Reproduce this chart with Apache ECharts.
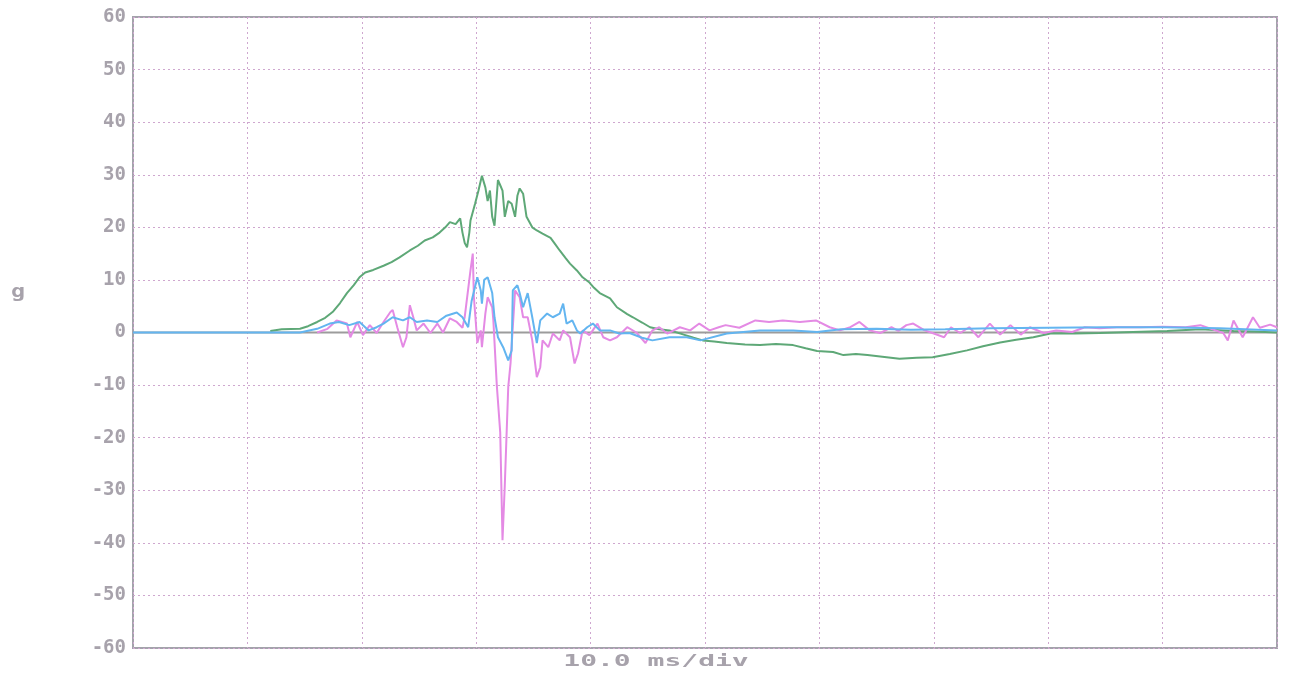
<!DOCTYPE html>
<html>
<head>
<meta charset="utf-8">
<script src="https://cdn.jsdelivr.net/npm/echarts@6/dist/echarts.min.js"></script>
<style>html,body{margin:0;padding:0;background:#fff}#c{width:1289px;height:674px}</style>
</head>
<body>
<div id="c"></div>
<script>
// time (ms), acceleration (g)
const yTicks = [-60,-50,-40,-30,-20,-10,0,10,20,30,40,50,60];
const xLabel = '10.0 ms/div';
const yName = 'g';
const zeroLine = [[0,0],[100,0]];

const green = [
[12.0,0.3],[13.0,0.6],[14.6,0.7],[15.3,1.2],[16.1,2],[16.8,2.8],[17.5,4],[18.1,5.6],[18.7,7.5],[19.3,9],[19.8,10.5],[20.3,11.4],[21.0,11.9],[21.9,12.7],[22.6,13.4],[23.3,14.3],[24.2,15.6],[24.9,16.5],[25.5,17.5],[26.2,18.1],[26.8,19],[27.3,20],[27.7,21],[28.2,20.6],[28.6,21.7],[28.8,19],[29.0,17],[29.2,16.2],[29.4,19],[29.5,21.3],[29.9,24.5],[30.2,27],[30.5,29.8],[30.8,27.6],[31.0,25],[31.2,27],[31.4,22],[31.6,20.3],[31.8,26],[31.9,29],[32.1,28],[32.3,27],[32.5,22],[32.8,25],[33.1,24.5],[33.4,22],[33.6,26],[33.8,27.4],[34.1,26.4],[34.4,22],[34.9,20],[35.3,19.4],[35.8,18.8],[36.5,18],[36.9,16.8],[37.3,15.6],[37.8,14.2],[38.2,13.1],[38.8,11.8],[39.3,10.5],[39.9,9.5],[40.3,8.5],[40.8,7.5],[41.7,6.5],[42.3,4.8],[43.2,3.5],[43.7,2.9],[44.5,1.9],[45.2,1],[46.0,0.6],[46.9,0.4],[48.0,-0.3],[49.0,-1],[49.8,-1.5],[50.8,-1.7],[51.9,-2],[53.5,-2.3],[54.8,-2.4],[56.2,-2.2],[57.7,-2.4],[58.8,-3],[59.8,-3.5],[61.2,-3.7],[62.1,-4.3],[63.2,-4.1],[64.2,-4.3],[65.5,-4.6],[67.0,-5],[68.5,-4.8],[69.9,-4.7],[71.4,-4.1],[72.9,-3.4],[74.3,-2.6],[75.8,-1.9],[77.2,-1.4],[78.7,-0.9],[80.2,-0.2],[82.3,-0.2],[84.5,-0.1],[87.4,0.1],[90.4,0.3],[93.3,0.6],[96.2,0.3],[98,0.2],[100,0]
];

const cyan = [
[0,0],[14.6,0],[16.1,0.7],[17.2,1.7],[18.0,2],[18.9,1.4],[19.8,2],[20.6,0.4],[21.3,1],[21.9,1.7],[22.7,2.9],[23.6,2.3],[24.2,2.9],[24.8,2],[25.7,2.3],[26.6,2],[27.4,3.2],[28.3,3.8],[28.8,2.9],[29.3,1],[29.6,6],[30.1,10.5],[30.4,8],[30.5,5.5],[30.7,10],[31.0,10.5],[31.4,7.5],[31.6,2.9],[31.9,-0.9],[32.4,-3],[32.8,-5.3],[33.1,-3.4],[33.2,8],[33.6,9],[33.8,7.5],[34.1,4.8],[34.5,7.5],[34.9,2.9],[35.3,-2],[35.6,2.3],[36.2,3.6],[36.7,2.9],[37.3,3.6],[37.6,5.5],[37.9,1.7],[38.4,2.3],[38.8,0.4],[39.1,-0.2],[39.7,1],[40.2,1.7],[40.8,0.4],[41.7,0.4],[42.5,-0.2],[43.4,-0.1],[44.5,-1],[45.4,-1.5],[46.9,-0.9],[48.4,-0.9],[49.6,-1.5],[51.9,-0.2],[54.8,0.4],[57.7,0.4],[59.8,0.1],[61.9,0.6],[65,0.7],[68,0.5],[71,0.6],[75,0.8],[80,0.9],[85,1],[90,1],[95,0.8],[100,0.4]
];

const magenta = [
[16.1,0],[17.0,0.7],[17.8,2.3],[18.7,1.7],[19.0,-0.9],[19.6,2],[20.1,-0.5],[20.7,1.4],[21.3,-0.1],[21.9,2],[22.5,3.9],[22.7,4.3],[23.1,1],[23.6,-2.8],[23.9,-0.9],[24.2,5.2],[24.5,2.9],[24.8,0.4],[25.4,1.7],[26.0,-0.1],[26.6,1.7],[27.1,0],[27.7,2.7],[28.3,2],[28.8,0.9],[29.0,3],[29.5,11.8],[29.7,15],[29.8,6.7],[30.1,-2],[30.4,0.4],[30.5,-2.8],[30.8,3.6],[31.0,6.7],[31.4,4.8],[31.5,2.3],[31.8,-10],[32.1,-19],[32.3,-39.5],[32.5,-29],[32.8,-10.4],[33.0,-5.9],[33.4,8],[33.8,6.7],[34.1,2.9],[34.5,2.9],[34.9,-1.5],[35.3,-8.5],[35.6,-6.6],[35.8,-1.5],[36.3,-2.8],[36.7,-0.2],[37.3,-1.5],[37.6,0.4],[38.2,-0.9],[38.6,-5.9],[38.9,-4],[39.3,0.4],[39.9,-0.5],[40.6,1.7],[41.1,-0.9],[41.7,-1.5],[42.3,-0.9],[43.2,1],[44.0,0],[44.8,-2],[45.4,0.4],[46.0,1],[46.7,-0.2],[47.8,1],[48.7,0.4],[49.5,1.7],[50.4,0.4],[51.2,1],[51.8,1.4],[53.0,0.9],[54.4,2.3],[55.6,2],[56.8,2.3],[58.3,2],[59.7,2.3],[60.9,1],[61.8,0.4],[62.7,1],[63.5,2],[64.4,0.4],[65.3,-0.1],[66.3,1],[66.9,0.3],[67.6,1.4],[68.2,1.7],[69.2,0.4],[70.0,-0.2],[70.9,-0.9],[71.5,1],[72.3,-0.1],[73.1,1],[73.9,-0.9],[74.9,1.7],[75.8,-0.4],[76.7,1.4],[77.6,-0.4],[78.4,1],[79.6,-0.1],[80.7,0.4],[82.1,0.1],[83.2,1],[84.5,0.8],[86,1],[88,1],[90,1.1],[92,1],[93.3,1.4],[95.3,-0.1],[95.7,-1.5],[96.2,2.3],[97.0,-0.9],[97.9,2.9],[98.5,0.9],[99.4,1.5],[100,1]
];

const chart = echarts.init(document.getElementById('c'));
const labelFont = {fontFamily:'DejaVu Sans Mono', fontWeight:'bold', fontSize:19, color:'#a7a2ab'};
const gridStyle = {color:'#cfa7cf', type:[2,3], width:1};
chart.setOption({
  animation:false,
  backgroundColor:'#ffffff',
  grid:{left:133, right:12, top:17, bottom:26, show:true, borderColor:'#a3a3ab', borderWidth:2, backgroundColor:'transparent'},
  xAxis:{type:'value', min:0, max:100, interval:10,
    axisLine:{show:false}, axisTick:{show:false}, axisLabel:{show:false},
    splitLine:{show:true, lineStyle:gridStyle}},
  yAxis:{type:'value', min:yTicks[0], max:yTicks[yTicks.length-1], interval:10,
    axisLine:{show:false}, axisTick:{show:false},
    axisLabel:Object.assign({margin:7, formatter:v=>String(v)}, labelFont),
    splitLine:{show:true, lineStyle:gridStyle}},
  graphic:[
    {type:'text', x:18, y:292, scaleX:1.3, style:{text:yName, font:'bold 18px "DejaVu Sans Mono"', fill:'#a7a2ab', textAlign:'center', textVerticalAlign:'middle'}},
    {type:'text', x:656, y:662, scaleX:1.75, style:{text:xLabel, font:'bold 16px "DejaVu Sans Mono"', fill:'#a7a2ab', textAlign:'center', textVerticalAlign:'middle'}}
  ],
  series:[
    {type:'line', data:zeroLine, showSymbol:false, silent:true, lineStyle:{color:'#9c9c9c', width:2}, z:1},
    {type:'line', data:green, showSymbol:false, lineStyle:{color:'#5ea877', width:2}, z:2},
    {type:'line', data:magenta, showSymbol:false, lineStyle:{color:'#e48ae4', width:2}, z:3},
    {type:'line', data:cyan, showSymbol:false, lineStyle:{color:'#63b5f0', width:2}, z:4}
  ]
});
</script>
</body>
</html>
